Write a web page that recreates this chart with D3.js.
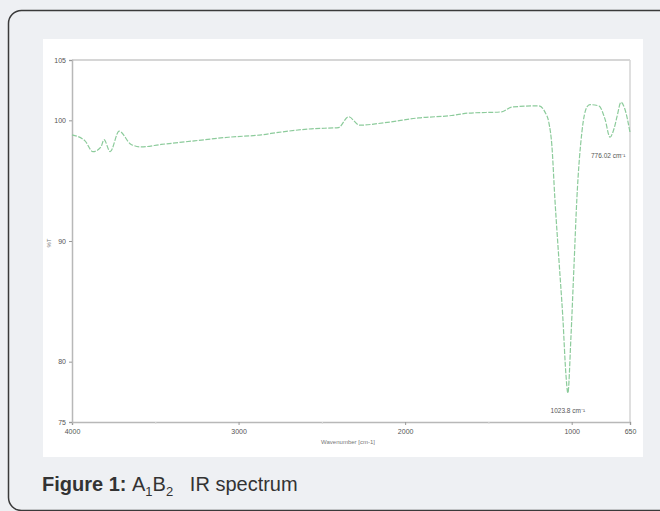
<!DOCTYPE html>
<html lang="en">
<head>
    <meta charset="UTF-8">
    <title>A1B2 IR spectrum</title>
    <script src="https://d3js.org/d3.v7.min.js"></script>
    <style>
        body {
            margin: 0;
            padding: 0;
            background-color: #eef0f3;
            font-family: 'Liberation Sans', Arial, sans-serif;
        }
        svg { display: block; }
    </style>
</head>
<body>
    <svg width="660" height="511"></svg>

    <script>
        // wavenumber (cm-1) and %T
        const wavenumbers = [4000, 3922, 3874, 3826, 3808, 3771, 3717, 3645, 3585, 3465, 3266, 3062, 2863, 2761,
                             2563, 2400, 2340, 2274, 2124, 1919, 1721, 1618, 1420, 1360, 1197, 1161, 1137, 1119,
                             1101, 1077, 1053, 1035, 1023, 1005, 987, 969, 939, 909, 891, 837, 800, 770, 746,
                             728, 704, 680, 650];
        const transmittance = [98.8, 98.3, 97.4, 97.8, 98.4, 97.4, 99.1, 98.0, 97.8, 98.0, 98.3, 98.6, 98.8, 99.0,
                               99.3, 99.4, 100.3, 99.6, 99.8, 100.2, 100.4, 100.6, 100.7, 101.1, 101.2, 100.7, 99.8, 97.9,
                               93.5, 88.5, 83.6, 79.0, 77.4, 81.9, 87.7, 93.5, 99.0, 101.1, 101.3, 101.2, 100.1, 98.6, 99.3,
                               100.3, 101.5, 100.9, 99.0];
        const xTicks = [4000, 3000, 2000, 1000, 650];
        const xMinorTicks = [3500, 2500, 1500];
        const yTicks = [75, 80, 90, 100, 105];
        const peakLabels = [
            {w: 1023, t: 77.4, text: "1023.8 cm\u207B\u00B9"},
            {w: 770, t: 98.6, text: "776.02 cm\u207B\u00B9"}
        ];

        const data = wavenumbers.map((w, i) => ({w: w, t: transmittance[i]}));

        const svg = d3.select("svg");

        // card with rounded border
        svg.append("rect")
            .attr("x", 8.5).attr("y", 10.5)
            .attr("width", 700).attr("height", 500)
            .attr("rx", 13)
            .attr("fill", "#eef0f3")
            .attr("stroke", "#3a3a3a")
            .attr("stroke-width", 1.5);

        // white picture area
        svg.append("rect")
            .attr("x", 43).attr("y", 39)
            .attr("width", 600).attr("height", 418)
            .attr("fill", "#ffffff");

        const x = d3.scaleLinear().domain([4000, 650]).range([72, 630]);
        const y = d3.scaleLinear().domain([75, 105]).range([422, 60]);

        const g = svg.append("g");

        // frame top and right
        g.append("line")
            .attr("x1", x(4000)).attr("x2", x(650))
            .attr("y1", y(105)).attr("y2", y(105))
            .attr("stroke", "#c8c8c8").attr("stroke-width", 1.5);
        g.append("line")
            .attr("x1", x(650)).attr("x2", x(650))
            .attr("y1", y(105)).attr("y2", y(75))
            .attr("stroke", "#d4d4d4").attr("stroke-width", 1.5);

        const xAxis = g.append("g")
            .attr("transform", `translate(0,${y(75)})`)
            .call(d3.axisBottom(x).tickValues(xTicks).tickSize(3).tickFormat(d3.format("d")));
        g.append("g")
            .attr("transform", `translate(0,${y(75)})`)
            .call(d3.axisBottom(x).tickValues(xMinorTicks).tickSize(2).tickFormat(""))
            .call(a => a.select(".domain").remove())
            .selectAll("line").attr("stroke", "#dddddd");

        const yAxis = g.append("g")
            .attr("transform", `translate(${x(4000)},0)`)
            .call(d3.axisLeft(y).tickValues(yTicks).tickSize(3).tickFormat(d3.format("d")));

        [xAxis, yAxis].forEach(a => {
            a.select(".domain").attr("stroke", "#b8b8b8").attr("stroke-width", 1.5);
            a.selectAll(".tick line").attr("stroke", "#999");
            a.selectAll(".tick text")
                .attr("fill", "#555")
                .style("font-size", "7px")
                .style("font-family", "'Liberation Sans', Arial, sans-serif");
        });
        xAxis.selectAll(".tick text").attr("dy", "0.9em");

        // axis titles
        g.append("text")
            .attr("x", 348).attr("y", 444)
            .attr("text-anchor", "middle")
            .attr("fill", "#777")
            .style("font-size", "6px")
            .text("Wavenumber [cm-1]");
        g.append("text")
            .attr("transform", "translate(51,243) rotate(-90)")
            .attr("text-anchor", "middle")
            .attr("fill", "#777")
            .style("font-size", "6px")
            .text("%T");

        // spectrum
        const line = d3.line()
            .x(d => x(d.w))
            .y(d => y(d.t))
            .curve(d3.curveMonotoneX);

        g.append("path")
            .datum(data)
            .attr("d", line)
            .attr("fill", "none")
            .attr("stroke", "#8ccb9b")
            .attr("stroke-width", 1.2)
            .attr("stroke-dasharray", "5,1.5");

        // peak labels
        g.append("text")
            .attr("x", x(peakLabels[0].w)).attr("y", y(peakLabels[0].t) + 20)
            .attr("text-anchor", "middle")
            .attr("fill", "#555")
            .style("font-size", "6.5px")
            .text(peakLabels[0].text);
        g.append("text")
            .attr("x", x(peakLabels[1].w) - 19).attr("y", y(peakLabels[1].t) + 21)
            .attr("fill", "#555")
            .style("font-size", "6.5px")
            .text(peakLabels[1].text);

        // caption
        const cap = svg.append("text")
            .attr("x", 42).attr("y", 491)
            .attr("fill", "#333")
            .style("font-size", "20px")
            .style("font-family", "'Liberation Sans', Arial, sans-serif");
        cap.append("tspan").style("font-weight", "bold").text("Figure 1: ");
        cap.append("tspan").text("A");
        cap.append("tspan").attr("dy", 5).style("font-size", "13px").text("1");
        cap.append("tspan").attr("dy", -5).text("B");
        cap.append("tspan").attr("dy", 5).style("font-size", "13px").text("2");
        cap.append("tspan").attr("dy", -5).text("\u00A0\u00A0 IR spectrum");
    </script>
</body>
</html>
